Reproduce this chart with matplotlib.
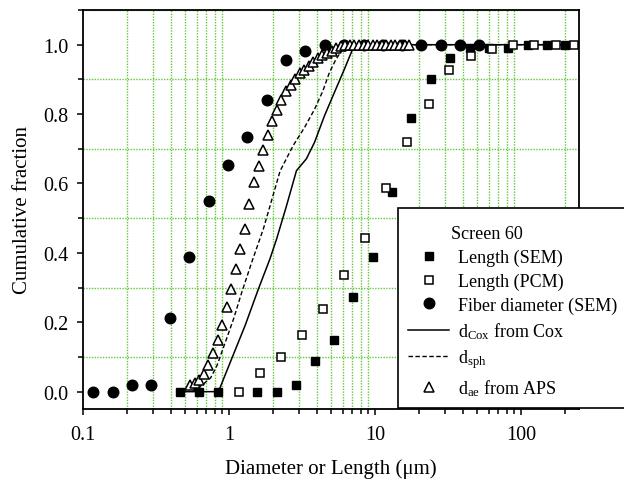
import numpy as np
import matplotlib
matplotlib.use('Agg')
import matplotlib.pyplot as plt
from matplotlib.lines import Line2D
from matplotlib.patches import Rectangle
from matplotlib.ticker import LogLocator, MultipleLocator, FixedFormatter, FixedLocator, NullFormatter

plt.rcParams['font.family'] = ['Liberation Serif', 'DejaVu Serif']
plt.rcParams['mathtext.fontset'] = 'custom'
plt.rcParams['mathtext.rm'] = 'Liberation Serif'
plt.rcParams['mathtext.it'] = 'Liberation Serif:italic'

# fibre length, SEM (filled squares)
len_sem_x = [0.462, 0.622, 0.841, 1.567, 2.12, 2.87, 3.88, 5.25, 7.13, 9.70, 13.1, 17.7,
             24.1, 32.9, 44.7, 60.5, 82.0, 111, 150, 202]
len_sem_y = [0, 0, 0, 0, 0, 0.018, 0.088, 0.150, 0.274, 0.389, 0.575, 0.788,
             0.902, 0.963, 0.990, 0.990, 0.990, 1.0, 1.0, 1.0]

# fibre length, PCM (open squares)
len_pcm_x = [1.164, 1.63, 2.26, 3.15, 4.42, 6.13, 8.57, 12.0, 16.6, 23.3, 32.3, 45.4,
             63.0, 87.9, 123, 173, 230]
len_pcm_y = [0, 0.055, 0.100, 0.162, 0.238, 0.336, 0.443, 0.587, 0.720, 0.829, 0.927, 0.968,
             0.989, 1.0, 1.0, 1.0, 1.0]

# fibre diameter, SEM (filled circles)
diam_x = [0.117, 0.16, 0.216, 0.292, 0.395, 0.534, 0.727, 0.98, 1.33, 1.81, 2.45, 3.33,
          4.56, 6.17, 8.35, 11.3, 15.3, 20.6, 28.2, 38.2, 51.7]
diam_y = [0, 0, 0.018, 0.018, 0.212, 0.388, 0.549, 0.654, 0.735, 0.841, 0.955, 0.981,
          1.0, 1.0, 1.0, 1.0, 1.0, 1.0, 1.0, 1.0, 1.0]

# d_Cox from Cox (solid line)
cox_x = [0.46, 0.847, 1.077, 1.291, 1.591, 1.91, 2.12, 2.48, 2.90, 3.39, 3.86, 4.51,
         5.27, 6.17, 7.03, 7.4, 250]
cox_y = [0, 0, 0.109, 0.191, 0.296, 0.383, 0.440, 0.536, 0.637, 0.671, 0.719, 0.795,
         0.862, 0.929, 0.987, 1.0, 1.0]

# d_sph (dashed line)
sph_x = [0.56, 0.66, 0.75, 0.829, 0.945, 1.076, 1.225, 1.432, 1.72, 2.24, 2.75, 3.30,
         3.86, 4.40, 4.88, 5.41, 6.01, 6.5, 250]
sph_y = [0, 0.02, 0.04, 0.076, 0.143, 0.210, 0.287, 0.373, 0.469, 0.636, 0.709, 0.762,
         0.814, 0.867, 0.920, 0.958, 0.987, 1.0, 1.0]

# d_ae from APS channels (open triangles)
aps_x = [0.542, 0.583, 0.626, 0.673, 0.723, 0.777, 0.835, 0.898, 0.965, 1.037, 1.114,
         1.197, 1.286, 1.382, 1.486, 1.596, 1.715, 1.843, 1.981, 2.129, 2.288, 2.458,
         2.642, 2.839, 3.051, 3.278, 3.523, 3.786, 4.068, 4.371, 4.698, 5.048, 5.425,
         5.829, 6.264, 6.732, 7.234, 7.774, 8.354, 8.977, 9.647, 10.37, 11.14, 11.97,
         12.86, 13.82, 14.86, 15.96, 17.15]
aps_y = [0.018, 0.026, 0.035, 0.052, 0.078, 0.111, 0.150, 0.193, 0.243, 0.296, 0.354,
         0.412, 0.469, 0.541, 0.603, 0.651, 0.697, 0.739, 0.779, 0.812, 0.842, 0.866,
         0.885, 0.900, 0.918, 0.928, 0.939, 0.951, 0.961, 0.970, 0.977, 0.983, 0.990,
         0.996, 1.0, 1.0, 1.0, 1.0, 1.0, 1.0, 1.0, 1.0, 1.0, 1.0,
         1.0, 1.0, 1.0, 1.0, 1.0]

x_ticks = [0.1, 1, 10, 100]
x_ticklabels = ['0.1', '1', '10', '100']

W, H = 624, 481
fig = plt.figure(figsize=(W / 100, H / 100), dpi=100)
ax = fig.add_axes([83 / W, 1 - 410 / H, (579 - 83) / W, (410 - 11) / H])

grid_col = '#62c83a'
ax.plot(cox_x, cox_y, '-', color='k', lw=1.1, zorder=2)
ax.plot(sph_x, sph_y, color='k', lw=1.0, linestyle=(0, (3.2, 1.8)), zorder=2)
ax.plot(diam_x, diam_y, 'o', color='k', ms=7.6, ls='none', zorder=3)
ax.plot(aps_x, aps_y, '^', mfc='white', mec='k', mew=1.1, ms=7.8, ls='none', zorder=4)
ax.plot(len_sem_x, len_sem_y, 's', color='k', ms=6.4, ls='none', zorder=5, clip_on=False)
ax.plot(len_pcm_x, len_pcm_y, 's', mfc='white', mec='k', mew=1.1, ms=6.4, ls='none',
        zorder=6, clip_on=False)

ax.set_xscale('log')
ax.set_xlim(0.1, 250)
ax.set_ylim(-0.05, 1.1)

ax.xaxis.set_major_locator(FixedLocator(x_ticks))
ax.xaxis.set_major_formatter(FixedFormatter(x_ticklabels))
ax.xaxis.set_minor_locator(LogLocator(base=10, subs=np.arange(2, 10)))
ax.xaxis.set_minor_formatter(NullFormatter())
ax.yaxis.set_major_locator(MultipleLocator(0.2))
ax.yaxis.set_minor_locator(MultipleLocator(0.1))
ax.set_yticks([0.0, 0.2, 0.4, 0.6, 0.8, 1.0])
ax.set_yticklabels(['0.0', '0.2', '0.4', '0.6', '0.8', '1.0'])

# dotted green grid on the minor ticks only
ax.grid(False, which='major')
ax.grid(True, which='minor', color=grid_col, linestyle=(0, (1, 1)), lw=1.0, zorder=0)
ax.set_axisbelow(True)

ax.tick_params(which='both', direction='out', top=False, right=False, labelsize=14.5,
               width=1.1)
ax.tick_params(which='major', length=4.5)
ax.tick_params(which='minor', length=3.5)
ax.tick_params(axis='x', pad=7)
ax.tick_params(axis='y', pad=6)
for sp in ax.spines.values():
    sp.set_linewidth(1.3)

ax.set_xlabel('Diameter or Length (\u03bcm)', fontsize=15, labelpad=10)
ax.set_ylabel('Cumulative fraction', fontsize=15, labelpad=8)

# legend box runs off the right edge of the figure
box = Rectangle((398 / W, 1 - 409 / H), (660 - 398) / W, (409 - 209) / H,
                transform=fig.transFigure, fc='white', ec='k', lw=1.2, zorder=4)
fig.add_artist(box)

handles = [
    Line2D([], [], ls='none'),
    Line2D([], [], marker='s', color='k', ls='none', ms=6.4),
    Line2D([], [], marker='s', mfc='white', mec='k', mew=1.1, ls='none', ms=6.4),
    Line2D([], [], marker='o', color='k', ls='none', ms=7.6),
    Line2D([], [], color='k', lw=1.1),
    Line2D([], [], color='k', lw=1.0, linestyle=(0, (3.2, 1.8))),
    Line2D([], [], marker='^', mfc='white', mec='k', mew=1.1, ls='none', ms=7.8),
]
labels = ['Screen 60', 'Length (SEM)', 'Length (PCM)', 'Fiber diameter (SEM)',
          r'd$_{\mathrm{Cox}}$ from Cox', r'd$_{\mathrm{sph}}$', r'd$_{\mathrm{ae}}$ from APS']
# a tiny blank title only adds some room above the first row
leg = fig.legend(handles, labels, loc='upper left', bbox_to_anchor=(398 / W, 1 - 209 / H),
                 bbox_transform=fig.transFigure, fontsize=13, frameon=False,
                 borderaxespad=0, borderpad=0.55,
                 handlelength=2.3, handletextpad=0.45, labelspacing=0.36,
                 title=' ', title_fontsize=1)
leg.set_zorder(5)
leg.get_texts()[0].set_x(-7)

fig.savefig('out.png', dpi=100)
